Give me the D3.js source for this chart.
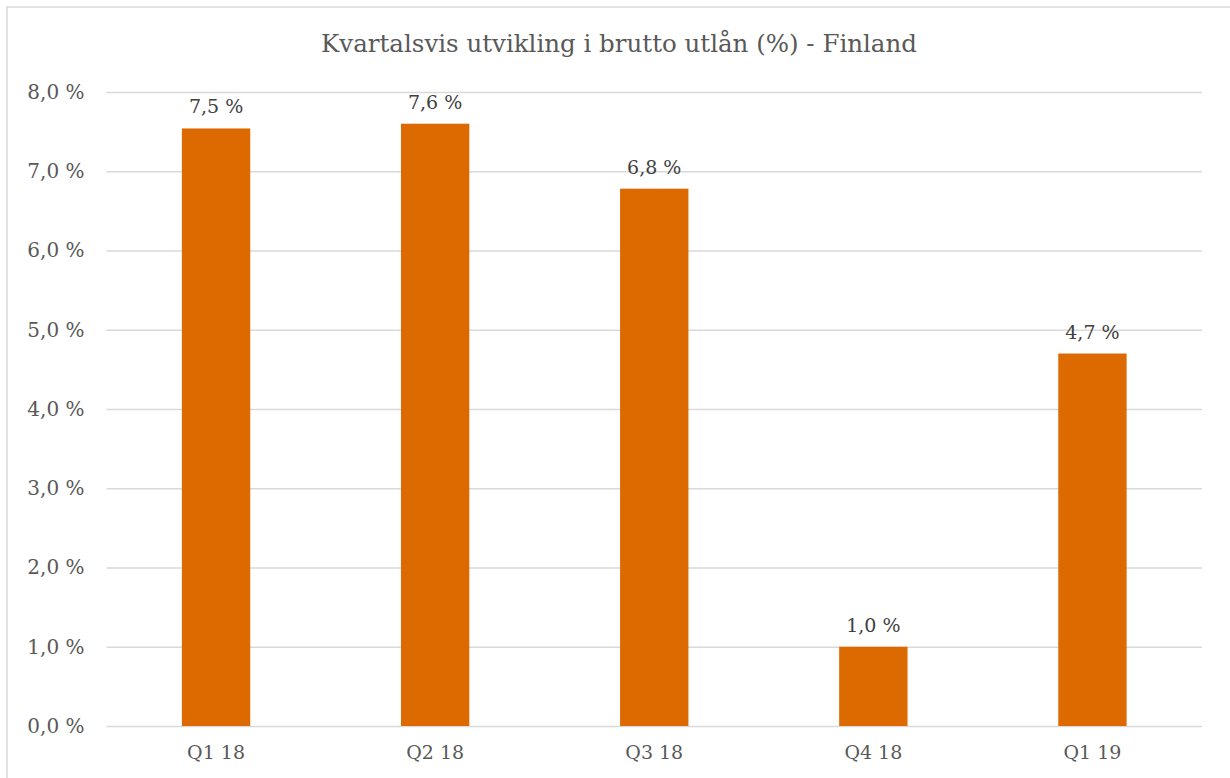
<!DOCTYPE html>
<html>
<head>
<meta charset="utf-8">
<script src="https://cdn.jsdelivr.net/npm/d3@7"></script>
<style>
  html, body { margin: 0; padding: 0; background: #fff; }
  svg { display: block; }
</style>
</head>
<body>
<svg id="chart" width="1230" height="778"></svg>
<script>
const title = "Kvartalsvis utvikling i brutto utlån (%) - Finland";
const categories = ["Q1 18", "Q2 18", "Q3 18", "Q4 18", "Q1 19"];
const values = [7.54, 7.60, 6.78, 1.00, 4.70];
const valueLabels = ["7,5 %", "7,6 %", "6,8 %", "1,0 %", "4,7 %"];
const yTicks = [0, 1, 2, 3, 4, 5, 6, 7, 8];
const yTickLabels = ["0,0 %", "1,0 %", "2,0 %", "3,0 %", "4,0 %", "5,0 %", "6,0 %", "7,0 %", "8,0 %"];

const W = 1230, H = 778;
const m = { left: 106.5, right: 1202, top: 92, bottom: 726 };
const font = "'DejaVu Serif', 'Liberation Serif', serif";

const svg = d3.select("#chart");

// outer frame
svg.append("rect").attr("x", 7).attr("y", 7).attr("width", W + 20).attr("height", H + 20)
  .attr("fill", "#fff").attr("stroke", "#d9d9d9").attr("stroke-width", 1.5);

const x = d3.scaleBand().domain(categories).range([m.left, m.right])
  .paddingInner(0.688).paddingOuter(0.344);
const y = d3.scaleLinear().domain([0, 8]).range([m.bottom, m.top]);

// gridlines
const yAxis = d3.axisLeft(y).tickValues(yTicks)
  .tickSize(-(m.right - m.left))
  .tickFormat((d, i) => yTickLabels[i]).tickPadding(22);
const gy = svg.append("g").attr("transform", `translate(${m.left},0)`).call(yAxis);
gy.select(".domain").remove();
gy.selectAll(".tick line").attr("stroke", "#d9d9d9").attr("stroke-width", 1.5);
gy.selectAll(".tick text").attr("fill", "#595959")
  .style("font-family", font).style("font-size", "20px");

// bars
svg.append("g").selectAll("rect").data(values).join("rect")
  .attr("x", (d, i) => x(categories[i]))
  .attr("y", d => y(d))
  .attr("width", x.bandwidth())
  .attr("height", d => y(0) - y(d))
  .attr("fill", "#dd6a00");

// data labels
svg.append("g").selectAll("text").data(values).join("text")
  .attr("x", (d, i) => x(categories[i]) + x.bandwidth() / 2)
  .attr("y", d => y(d) - 15)
  .attr("text-anchor", "middle")
  .attr("fill", "#404040")
  .style("font-family", font).style("font-size", "19px")
  .text((d, i) => valueLabels[i]);

// x axis labels
const xAxis = d3.axisBottom(x).tickSize(0).tickPadding(20);
const gx = svg.append("g").attr("transform", `translate(0,${m.bottom})`).call(xAxis);
gx.select(".domain").remove();
gx.selectAll(".tick text").attr("fill", "#595959")
  .style("font-family", font).style("font-size", "19px");

// title
svg.append("text").attr("x", 619).attr("y", 52).attr("text-anchor", "middle")
  .attr("fill", "#595959").style("font-family", font).style("font-size", "24.5px")
  .text(title);
</script>
</body>
</html>
